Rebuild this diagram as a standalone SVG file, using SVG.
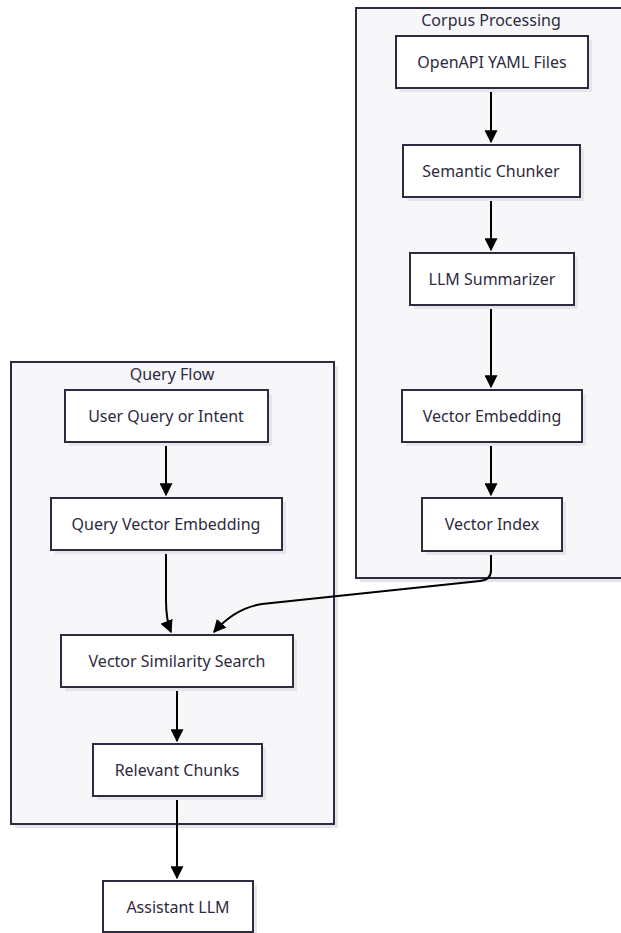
<svg xmlns="http://www.w3.org/2000/svg" width="621" height="933" viewBox="0 0 621 933">
<defs>
<style>
.cl{fill:#f7f7f9;stroke:#2d2b3f;stroke-width:2}
.sh{fill:#e6e6ea}
.nd{fill:#ffffff;stroke:#2d2b3f;stroke-width:2}
.t{font-family:"Noto Sans","Liberation Sans",sans-serif;font-size:16px;fill:#2e2a40;text-anchor:middle;dominant-baseline:central}
.e{fill:none;stroke:#000;stroke-width:2}
</style>
<marker id="ah" viewBox="0 0 10 10" refX="9" refY="5" markerWidth="13" markerHeight="13" markerUnits="userSpaceOnUse" orient="auto">
<path d="M0,0 L10,5 L0,10 z" fill="#000"/>
</marker>
</defs>
<rect width="621" height="933" fill="#ffffff"/>
<g id="cluster-corpus">
<rect class="sh" x="360" y="12" width="265" height="570"/>
<rect class="cl" x="356" y="8" width="266" height="570"/>
<text class="t" x="491" y="20">Corpus Processing</text>
</g>
<g id="cluster-query">
<rect class="sh" x="15" y="366" width="323" height="462"/>
<rect class="cl" x="11" y="362" width="323" height="462"/>
<text class="t" x="172" y="374">Query Flow</text>
</g>
<g id="edges">
<path class="e" d="M491,88 V142" marker-end="url(#ah)"/>
<path class="e" d="M491,197 V250" marker-end="url(#ah)"/>
<path class="e" d="M491,305 V387" marker-end="url(#ah)"/>
<path class="e" d="M491,442 V495" marker-end="url(#ah)"/>
<path class="e" d="M166,442 V495" marker-end="url(#ah)"/>
<path class="e" d="M166,550 V600 Q166,620 171,632" marker-end="url(#ah)"/>
<path class="e" d="M491,551 V570 Q491,580 480,581 L262,604 Q235,608 214,632" marker-end="url(#ah)"/>
<path class="e" d="M177,687 V741" marker-end="url(#ah)"/>
<path class="e" d="M177,796 V878" marker-end="url(#ah)"/>
</g>
<g id="n-openapi">
<rect class="sh" x="400" y="40" width="192" height="52"/>
<rect class="nd" x="396" y="36" width="192" height="52"/>
<text class="t" x="492" y="62">OpenAPI YAML Files</text>
</g>
<g id="n-chunker">
<rect class="sh" x="407" y="149" width="177" height="52"/>
<rect class="nd" x="403" y="145" width="177" height="52"/>
<text class="t" x="491" y="171">Semantic Chunker</text>
</g>
<g id="n-summarizer">
<rect class="sh" x="414" y="257" width="164" height="52"/>
<rect class="nd" x="410" y="253" width="164" height="52"/>
<text class="t" x="492" y="279">LLM Summarizer</text>
</g>
<g id="n-vembed">
<rect class="sh" x="406" y="394" width="180" height="52"/>
<rect class="nd" x="402" y="390" width="180" height="52"/>
<text class="t" x="492" y="416">Vector Embedding</text>
</g>
<g id="n-vindex">
<rect class="sh" x="426" y="502" width="140" height="53"/>
<rect class="nd" x="422" y="498" width="140" height="53"/>
<text class="t" x="492" y="524">Vector Index</text>
</g>
<g id="n-userquery">
<rect class="sh" x="69" y="394" width="203" height="52"/>
<rect class="nd" x="65" y="390" width="203" height="52"/>
<text class="t" x="166" y="416">User Query or Intent</text>
</g>
<g id="n-qvembed">
<rect class="sh" x="55" y="502" width="231" height="52"/>
<rect class="nd" x="51" y="498" width="231" height="52"/>
<text class="t" x="166" y="524">Query Vector Embedding</text>
</g>
<g id="n-vss">
<rect class="sh" x="65" y="639" width="232" height="52"/>
<rect class="nd" x="61" y="635" width="232" height="52"/>
<text class="t" x="177" y="661">Vector Similarity Search</text>
</g>
<g id="n-relevant">
<rect class="sh" x="97" y="748" width="169" height="52"/>
<rect class="nd" x="93" y="744" width="169" height="52"/>
<text class="t" x="177" y="770">Relevant Chunks</text>
</g>
<g id="n-assistant">
<rect class="sh" x="107" y="885" width="150" height="52"/>
<rect class="nd" x="103" y="881" width="150" height="51"/>
<text class="t" x="178" y="907">Assistant LLM</text>
</g>
</svg>
